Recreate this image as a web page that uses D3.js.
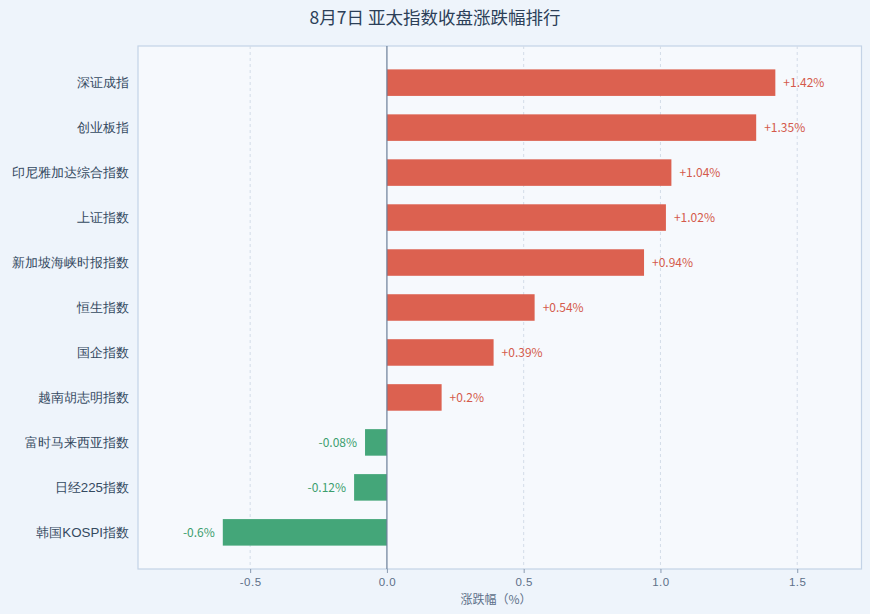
<!DOCTYPE html>
<html><head><meta charset="utf-8">
<script src="https://cdn.jsdelivr.net/npm/d3@7/dist/d3.min.js"></script>
<style>
html,body{margin:0;padding:0;background:#eef4fb;}
svg{display:block;font-family:"Noto Sans CJK SC","Noto Sans",sans-serif;}
</style></head>
<body><svg id="c" width="870" height="614"></svg>
<script>
const categories = ["深证成指","创业板指","印尼雅加达综合指数","上证指数","新加坡海峡时报指数","恒生指数","国企指数","越南胡志明指数","富时马来西亚指数","日经225指数","韩国KOSPI指数"];
const values = [1.42,1.35,1.04,1.02,0.94,0.54,0.39,0.2,-0.08,-0.12,-0.6];
const xTicks = [-0.5,0.0,0.5,1.0,1.5];
const title = "8月7日 亚太指数收盘涨跌幅排行";
const xTitle = "涨跌幅（%）";

const W=870,H=614;
const m={l:138,r:8.5,t:46,b:45};
const svg=d3.select("#c");
svg.append("rect").attr("width",W).attr("height",H).attr("fill","#eef4fb");
const x=d3.scaleLinear().domain([-0.91,1.735]).range([m.l,W-m.r]);
const y=d3.scaleBand().domain(categories).range([m.t,H-m.b]).paddingInner(0.41).paddingOuter(0.52);
const pw=W-m.r-m.l, ph=H-m.b-m.t;
svg.append("rect").attr("x",m.l).attr("y",m.t).attr("width",pw).attr("height",ph)
  .attr("fill","#f6f9fd").attr("stroke","#c4d3e6").attr("stroke-width",1.2);
// grid
svg.append("g").selectAll("line").data(xTicks.filter(d=>d!==0)).join("line")
  .attr("x1",d=>x(d)).attr("x2",d=>x(d)).attr("y1",m.t).attr("y2",H-m.b)
  .attr("stroke","#d3dce8").attr("stroke-dasharray","3,3").attr("stroke-width",1);
// x axis
const xa=svg.append("g").attr("transform",`translate(0,${H-m.b})`)
  .call(d3.axisBottom(x).tickValues(xTicks).tickFormat(d=>d3.format(".1f")(d).replace("−","-")).tickSize(4).tickSizeOuter(0));
xa.select(".domain").remove();
xa.selectAll(".tick line").attr("stroke","#8a9ab0");
xa.selectAll(".tick text").attr("fill","#5d7089").attr("font-size",11.5).attr("dy","0.85em").attr("letter-spacing","0.5px");
// y axis
const ya=svg.append("g").attr("transform",`translate(${m.l},0)`)
  .call(d3.axisLeft(y).tickSize(0).tickPadding(9));
ya.select(".domain").remove();
ya.selectAll(".tick text").attr("fill","#34495f").attr("font-size",13.3);
// bars
const pos="#dc6150", neg="#44a679";
svg.append("g").selectAll("rect").data(values).join("rect")
  .attr("x",d=>x(Math.min(0,d))).attr("width",d=>Math.abs(x(d)-x(0)))
  .attr("y",(d,i)=>y(categories[i])).attr("height",y.bandwidth())
  .attr("fill",d=>d>=0?pos:neg);
// zero line
svg.append("line").attr("x1",x(0)).attr("x2",x(0)).attr("y1",m.t).attr("y2",H-m.b)
  .attr("stroke","#6a7e98").attr("stroke-width",1.2);
// value labels
svg.append("g").selectAll("text").data(values).join("text")
  .attr("x",d=>d>=0?x(d)+8:x(d)-8)
  .attr("y",(d,i)=>y(categories[i])+y.bandwidth()/2)
  .attr("dy","0.35em").attr("text-anchor",d=>d>=0?"start":"end")
  .attr("font-size",12).attr("fill",d=>d>=0?"#d4594b":"#3c9e6e")
  .text(d=>(d>0?"+":"")+d+"%");
// titles
svg.append("text").attr("x",W/2).attr("y",24).attr("text-anchor","middle")
  .attr("font-size",17.5).attr("fill","#2c3f58").text(title);
svg.append("text").attr("x",496).attr("y",604).attr("text-anchor","middle")
  .attr("font-size",12).attr("fill","#5d7089").text(xTitle);
</script></body></html>
